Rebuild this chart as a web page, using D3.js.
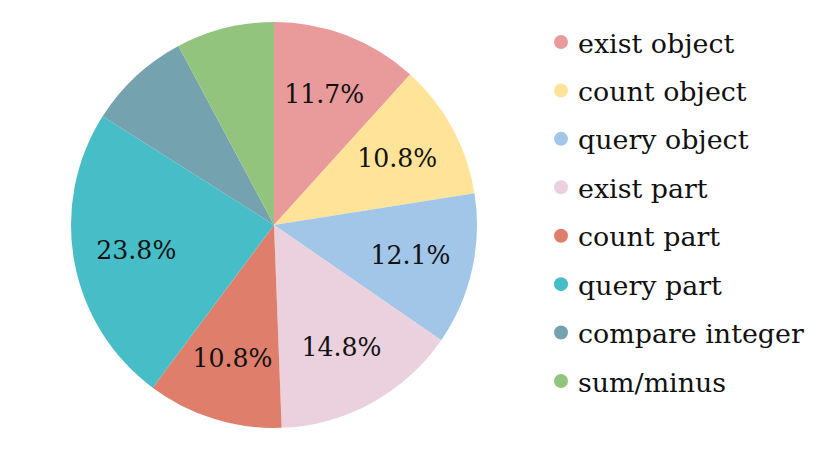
<!DOCTYPE html>
<html><head><meta charset="utf-8">
<script src="https://cdn.jsdelivr.net/npm/d3@7"></script>
<style>html,body{margin:0;padding:0;background:#fff;}</style>
</head><body>
<svg id="chart" width="830" height="451"></svg>
<script>
const categories = ["exist object","count object","query object","exist part","count part","query part","compare integer","sum/minus"];
const values = [11.7, 10.8, 12.1, 14.8, 10.8, 23.8, 8.2, 7.8];
const colors = ["#E99A9B","#FEE398","#A2C6E8","#EBD1DD","#DF7F6B","#47BDC7","#74A3AF","#93C47D"];
const labelThreshold = 10;

const svg = d3.select("#chart");
const font = "'DejaVu Serif', serif";
const cx = 274, cy = 225, R = 203;

const data = categories.map((c,i)=>({name:c, value:values[i], color:colors[i]}));
const pie = d3.pie().value(d=>d.value).sort(null);
const arcs = pie(data);
const arc = d3.arc().innerRadius(0).outerRadius(R);
const labelArc = d3.arc().innerRadius(140).outerRadius(140);

const g = svg.append("g").attr("transform",`translate(${cx},${cy})`);
g.selectAll("path").data(arcs).join("path")
  .attr("d",arc).attr("fill",d=>d.data.color);

function fitSize(text, targetW, base){
  const t = svg.append("text").attr("font-family",font).attr("font-size",base).text(text);
  const w = t.node().getComputedTextLength(); t.remove();
  return base*targetW/w;
}
const labelSize = fitSize("23.8%", 80, 20);
g.selectAll("text.lbl").data(arcs.filter(d=>d.data.value>=labelThreshold)).join("text")
  .attr("class","lbl")
  .attr("transform",d=>`translate(${labelArc.centroid(d)})`)
  .attr("text-anchor","middle").attr("dominant-baseline","central")
  .attr("font-family",font).attr("font-size",labelSize).attr("fill","#111")
  .text(d=>d.data.value.toFixed(1)+"%");

const legendSize = fitSize("compare integer", 226, 24);
const ly = d3.scalePoint().domain(categories).range([42,381]);
const leg = svg.append("g");
const items = leg.selectAll("g").data(data).join("g")
  .attr("transform",d=>`translate(561,${ly(d.name)})`);
items.append("circle").attr("r",7).attr("fill",d=>d.color);
items.append("text").attr("x",17).attr("y",1).attr("dominant-baseline","central")
  .attr("font-family",font).attr("font-size",legendSize).attr("fill","#111")
  .text(d=>d.name);
</script>
</body></html>
